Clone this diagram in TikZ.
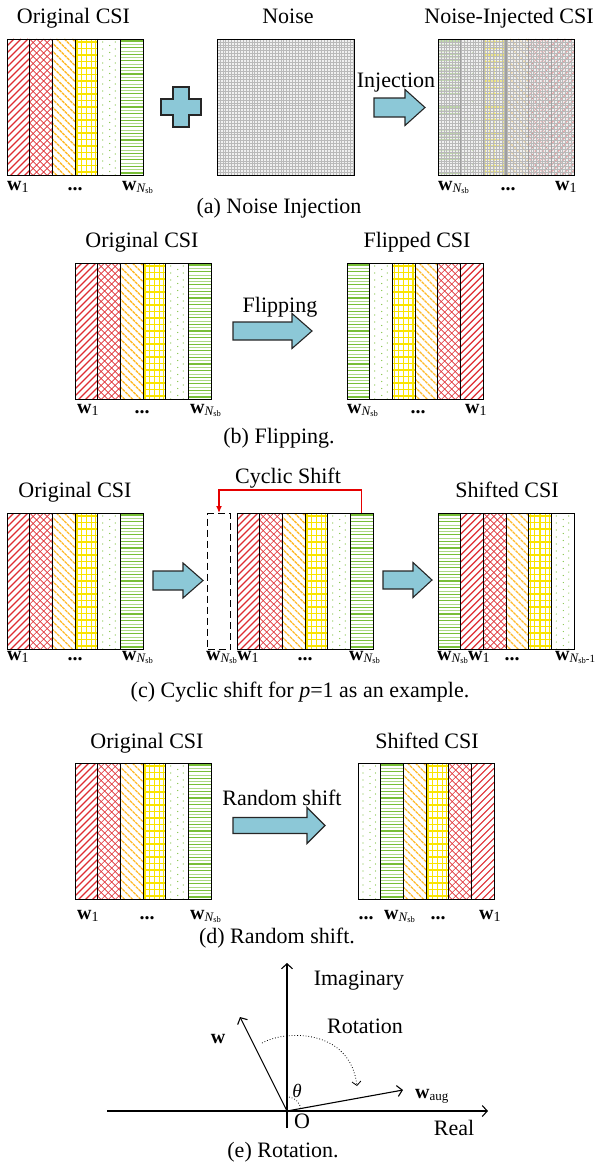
\documentclass[tikz,border=0pt]{standalone}
\usepackage{fontspec}
\setmainfont{Liberation Serif}
\usetikzlibrary{arrows.meta}
\definecolor{cRed}{RGB}{222,45,50}
\definecolor{cOrange}{RGB}{255,185,40}
\definecolor{cYellow}{RGB}{250,228,0}
\definecolor{cGreen}{RGB}{120,190,55}
\definecolor{arrowblue}{RGB}{140,200,215}
\newcommand\csicw{22.667}
\newcommand\colRD[2]{\begin{scope}\clip (#1,#2) rectangle ++(\csicw,136);
  \foreach \t in {0,7,...,166}{\draw[line width=1.2pt,cRed] ({#1+\t},#2) -- ++(-140,140);}\end{scope}}
\newcommand\colRX[2]{\begin{scope}\clip (#1,#2) rectangle ++(\csicw,136);
  \foreach \t in {0,7,...,170}{\draw[line width=0.6pt,cRed] ({#1+\t},#2) -- ++(-140,140);
    \draw[line width=0.6pt,cRed] ({#1+\t-140},#2) -- ++(140,140);}\end{scope}}
\newcommand\colOD[2]{\begin{scope}\clip (#1,#2) rectangle ++(\csicw,136);
  \foreach \t in {0,8,...,170}{\draw[line width=1.3pt,cOrange,dash pattern=on 3pt off 0.8pt] ({#1+\t-140},#2) -- ++(140,140);}\end{scope}}
\newcommand\colYG[2]{\begin{scope}\clip (#1,#2) rectangle ++(\csicw,136);
  \foreach \t in {2,6.2,11.3,16.4,20.7}{\draw[line width=1.1pt,cYellow] ({#1+\t},#2) -- ++(0,136);}
  \foreach \t in {3,9.5,...,136}{\draw[line width=1.1pt,cYellow] (#1,{#2+\t}) -- ++(\csicw,0);}\end{scope}}
\newcommand\colGD[2]{\begin{scope}\clip (#1,#2) rectangle ++(\csicw,136);
  \foreach \k in {0,...,19}{\fill[cGreen] ({#1+5},{#2+3+\k*7}) circle[radius=0.6pt];
    \fill[cGreen] ({#1+12},{#2+6.5+\k*7}) circle[radius=0.6pt];
    \fill[cGreen] ({#1+17.5},{#2+3+\k*7}) circle[radius=0.6pt];}\end{scope}}
\newcommand\colGH[2]{\begin{scope}\clip (#1,#2) rectangle ++(\csicw,136);
  \foreach \t in {2,8.6,...,136}{\draw[line width=1.1pt,cGreen] (#1,{#2+\t}) -- ++(\csicw,0);
    \draw[line width=0.5pt,cGreen!60] (#1,{#2+\t+3.3}) -- ++(\csicw,0);}\end{scope}}
\newcommand\noisegrid[4]{\begin{scope}\clip (#1,#2) rectangle ++(#3,#4);
  \foreach \t in {0,2.9,...,140}{\draw[noiseln] ({#1+\t},#2) -- ++(0,#4); \draw[noiseln] (#1,{#2+\t}) -- ++(#3,0);}\end{scope}}
\newcommand\csicols[3]{\foreach \ty [count=\i from 0] in {#3}{\pgfmathsetmacro\xx{#1+\i*\csicw}\csname col\ty\endcsname{\xx}{#2}}}
\newcommand\csiblock[4]{\csicols{#2}{#3}{#4}
  \foreach \i in {1,...,5}{\draw[line width=1pt] ({#2+\i*\csicw},#3) -- ++(0,136);}
  \node[blk,anchor=north west] (#1) at (#2,#3) {};}
\newcommand\barrowdraw[6]{\filldraw[barrow] (#1,{#4-#5}) -- (#2,{#4-#5}) -- (#2,{#4-#6}) -- (#3,#4) -- (#2,{#4+#6}) -- (#2,{#4+#5}) -- (#1,{#4+#5}) -- cycle;}
\newcommand\wlab[1]{\textbf{w}\raisebox{-0.3ex}{#1}}
\newcommand\subone{\fontsize{14}{14}\selectfont 1}
\newcommand\subN{\fontsize{13}{13}\selectfont\textit{N}\kern-0.6pt\fontsize{8.5}{9}\selectfont\raisebox{-0.1ex}{sb}}
\newcommand\dotsl{\textbf{...}}
\begin{document}
\begin{tikzpicture}[x=1pt,y=-1pt,
  txt/.style={inner sep=0pt, font=\fontsize{22}{26}\selectfont},
  lbl/.style={inner sep=0pt, font=\fontsize{20}{24}\selectfont},
  blk/.style={draw, line width=1.3pt, minimum width=136pt, minimum height=136pt, inner sep=0pt},
  noiseln/.style={line width=0.45pt, gray!55},
  barrow/.style={fill=arrowblue, draw=black!85, line width=1.1pt, line join=miter},
  ax/.style={line width=1.1pt, -{Straight Barb[length=5pt,width=11pt]}},
]
\useasboundingbox (0,0) rectangle (598,1164);
% ---------------- (a)
\node[txt,anchor=base] (tA1) at (73.5,24) {Original CSI};
\node[txt,anchor=base] (tA2) at (288,24) {Noise};
\node[txt,anchor=base] (tA3) at (509,24) {Noise-Injected CSI};
\csiblock{A1}{7}{39}{RD,RX,OD,YG,GD,GH}
\fill[gray!12] (217,39) rectangle ++(137,136);
\noisegrid{217}{39}{137}{136}
\node[blk,minimum width=137pt,anchor=north west] (N) at (217,39) {};
\filldraw[barrow] (161,99) -- (173,99) -- (173,87) -- (189,87) -- (189,99) -- (201,99) -- (201,115) -- (189,115) -- (189,127) -- (173,127) -- (173,115) -- (161,115) -- cycle;
\barrowdraw{374}{405}{425}{107.5}{9.5}{18}
\node[txt,anchor=base] (tInj) at (396,87) {Injection};
\begin{scope}[opacity=0.5]
\csicols{438}{39}{GH,GD,YG,OD,RX,RD}
\end{scope}
\fill[gray!40,opacity=0.3] (438,39) rectangle ++(136,136);
\noisegrid{438}{39}{136}{136}
\foreach \i in {1,...,5}{\draw[line width=1.2pt,gray!75] ({438+\i*\csicw},39) -- ++(0,136);}
\node[blk,anchor=north west] (A2) at (438,39) {};
\node[lbl,anchor=base west] (la1) at (7,190) {\wlab{\subone}};
\node[lbl,anchor=base] (la2) at (75,190) {\dotsl};
\node[lbl,anchor=base west] (la3) at (122,190) {\wlab{\subN}};
\node[lbl,anchor=base west] (la4) at (438,190) {\wlab{\subN}};
\node[lbl,anchor=base] (la5) at (508,190) {\dotsl};
\node[lbl,anchor=base west] (la6) at (555,190) {\wlab{\subone}};
\node[txt,anchor=base] (capA) at (279,213) {(a) Noise Injection};
% ---------------- (b)
\node[txt,anchor=base] (tB1) at (142,247) {Original CSI};
\node[txt,anchor=base] (tB2) at (417,247) {Flipped CSI};
\csiblock{B1}{75}{263}{RD,RX,OD,YG,GD,GH}
\csiblock{B2}{347}{263}{GH,GD,YG,OD,RX,RD}
\barrowdraw{233}{292}{312}{331}{9}{17.5}
\node[txt,anchor=base] (tFl) at (280,312) {Flipping};
\node[lbl,anchor=base west] (lb1) at (77,413) {\wlab{\subone}};
\node[lbl,anchor=base] (lb2) at (142,413) {\dotsl};
\node[lbl,anchor=base west] (lb3) at (190,413) {\wlab{\subN}};
\node[lbl,anchor=base west] (lb4) at (347,413) {\wlab{\subN}};
\node[lbl,anchor=base] (lb5) at (418,413) {\dotsl};
\node[lbl,anchor=base west] (lb6) at (465,413) {\wlab{\subone}};
\node[txt,anchor=base] (capB) at (279,443) {(b) Flipping.};
% ---------------- (c)
\node[txt,anchor=base] (tC1) at (75,497) {Original CSI};
\node[txt,anchor=base] (tC3) at (507,497) {Shifted CSI};
\csiblock{C1}{7}{513}{RD,RX,OD,YG,GD,GH}
\node[draw,line width=1pt,dash pattern=on 7pt off 4pt,minimum width=23pt,minimum height=136pt,inner sep=0pt,anchor=north west] (dash) at (207,513) {};
\csiblock{C2}{237}{513}{RD,RX,OD,YG,GD,GH}
\csiblock{C3}{438}{513}{GH,RD,RX,OD,YG,GD}
\barrowdraw{153}{183}{203}{580.5}{9.5}{17.5}
\barrowdraw{383}{413}{432}{580}{9}{17.5}
\coordinate (c6top) at (361.5,513);
\draw[line width=1.2pt,red!90!black,-{Latex[length=7pt,width=6pt]}] (c6top) -- ++(0,-23) -| (dash.north);
\node[txt,anchor=base] (tCy) at (288,483) {Cyclic Shift};
\node[lbl,anchor=base west] (lc1) at (7,660) {\wlab{\subone}};
\node[lbl,anchor=base] (lc2) at (75,660) {\dotsl};
\node[lbl,anchor=base west] (lc3) at (122,660) {\wlab{\subN}};
\node[lbl,anchor=base west] (lc4) at (206,660) {\wlab{\subN}};
\node[lbl,anchor=base west] (lc5) at (237,660) {\wlab{\subone}};
\node[lbl,anchor=base] (lc6) at (305,660) {\dotsl};
\node[lbl,anchor=base west] (lc7) at (349,660) {\wlab{\subN}};
\node[lbl,anchor=base west] (lc8) at (437,660) {\wlab{\subN}};
\node[lbl,anchor=base west] (lc9) at (468,660) {\wlab{\subone}};
\node[lbl,anchor=base] (lc10) at (512,660) {\dotsl};
\node[lbl,anchor=base west] (lc11) at (555,660) {\wlab{\subN\fontsize{11}{12}\selectfont -1}};
\node[txt,anchor=base] (capC) at (300,697) {(c) Cyclic shift for \textit{p}=1 as an example.};
% ---------------- (d)
\node[txt,anchor=base] (tD1) at (147,748) {Original CSI};
\node[txt,anchor=base] (tD2) at (427,748) {Shifted CSI};
\csiblock{D1}{75}{763}{RD,RX,OD,YG,GD,GH}
\csiblock{D2}{358}{763}{GD,GH,OD,YG,RX,RD}
\barrowdraw{233}{307}{325}{825.5}{8}{18}
\node[txt,anchor=base] (tRs) at (282,805) {Random shift};
\node[lbl,anchor=base west] (ld1) at (77,919) {\wlab{\subone}};
\node[lbl,anchor=base] (ld2) at (147,919) {\dotsl};
\node[lbl,anchor=base west] (ld3) at (190,919) {\wlab{\subN}};
\node[lbl,anchor=base] (ld4) at (366,919) {\dotsl};
\node[lbl,anchor=base west] (ld5) at (384,919) {\wlab{\subN}};
\node[lbl,anchor=base] (ld6) at (438,919) {\dotsl};
\node[lbl,anchor=base west] (ld7) at (479,919) {\wlab{\subone}};
\node[txt,anchor=base] (capD) at (277,943) {(d) Random shift.};
% ---------------- (e)
\coordinate (O) at (287,1111);
\coordinate (yt) at (287,963);
\coordinate (yb) at (287,1128);
\coordinate (xl) at (107,1111);
\coordinate (xr) at (488,1111);
\coordinate (wt) at (240,1017);
\coordinate (wa) at (403,1090);
\draw[ax] (yb) -- (yt);
\draw[ax] (xl) -- (xr);
\draw[ax] (O) -- (wt);
\draw[ax] (O) -- (wa);
\coordinate (r1) at (262,1043);
\coordinate (r2) at (357,1086);
\draw[line width=0.8pt,dotted,-{Straight Barb[length=4pt,width=9pt]}] (r1) .. controls (285,1030) and (350,1028) .. (r2);
\coordinate (t1) at (289,1097);
\coordinate (t2) at (301,1110);
\draw[line width=0.8pt,dotted] (t1) .. controls (296,1098) and (300,1103) .. (t2);
\node[txt,anchor=base] (tIm) at (359,985) {Imaginary};
\node[txt,anchor=base] (tRo) at (365,1033) {Rotation};
\node[lbl,anchor=base] (tw) at (218,1043) {\textbf{w}};
\node[lbl,anchor=base west] (twa) at (415,1098) {\textbf{w}\raisebox{-0.3ex}{\fontsize{13}{14}\selectfont aug}};
\node[txt,anchor=base] (tth) at (297,1097) {\fontsize{19}{20}\selectfont\textit{θ}};
\node[txt,anchor=base] (tO) at (302,1128) {O};
\node[txt,anchor=base] (tRe) at (454,1135) {Real};
\node[txt,anchor=base] (capE) at (283,1157) {(e) Rotation.};
\end{tikzpicture}
\end{document}
